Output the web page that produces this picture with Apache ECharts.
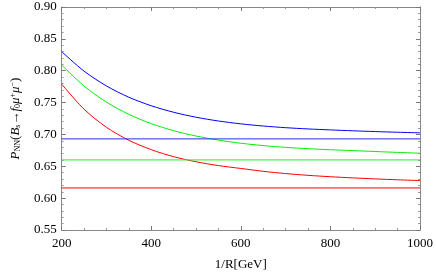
<!DOCTYPE html>
<html><head><meta charset="utf-8">
<script src="https://cdn.jsdelivr.net/npm/echarts@6/dist/echarts.min.js"></script>
<style>html,body{margin:0;padding:0;background:#fff}#c{width:436px;height:276px}</style>
</head><body><div id="c"></div>
<script>
const xValues = [200,250,300,350,400,450,500,550,600,650,700,750,800,850,900,950,1000];
const blueCurve  = [0.830,0.7994,0.7761,0.7584,0.745,0.7348,0.727,0.7211,0.7166,0.7132,0.7106,0.7086,0.7071,0.7057,0.7045,0.7034,0.7025];
const greenCurve = [0.809,0.7759,0.7507,0.7316,0.717,0.7059,0.6975,0.6911,0.6862,0.6825,0.6797,0.6776,0.676,0.6746,0.6732,0.6718,0.6705];
const redCurve   = [0.779,0.7396,0.7112,0.6908,0.6761,0.6651,0.6571,0.6511,0.6466,0.6421,0.6386,0.6358,0.6336,0.6318,0.6302,0.6288,0.6276];
const blueFlat = 0.693, greenFlat = 0.660, redFlat = 0.616;
const xTicks = [200,400,600,800,1000];
const yTicks = [0.55,0.60,0.65,0.70,0.75,0.80,0.85,0.90];

const pairs = ys => xValues.map((x,i)=>[x,ys[i]]);
const flat = v => [[xValues[0],v],[xValues[xValues.length-1],v]];
const FONT = '"Liberation Serif","DejaVu Serif",serif';
const axisCommon = {
  axisLine:{show:true,onZero:false,lineStyle:{color:'#888',width:1}},
  axisTick:{show:true,inside:true,length:4,lineStyle:{color:'#777'}},
  splitLine:{show:false}
};
const xMinor = {show:true,splitNumber:4,length:2,lineStyle:{color:'#999'}};
const yMinor = {show:true,splitNumber:5,length:2,lineStyle:{color:'#999'}};
const chart = echarts.init(document.getElementById('c'));
const lineS = (d,c,sm) => ({type:'line',data:d,smooth:sm,showSymbol:false,symbol:'none',lineStyle:{color:c,width:1},itemStyle:{color:c},animation:false});
chart.setOption({
  animation:false,
  grid:{left:55.5,right:14,top:7,bottom:43},
  xAxis:[
    Object.assign({type:'value',min:xTicks[0],max:xTicks[xTicks.length-1],interval:200,position:'bottom',
      name:'1/R[GeV]',nameLocation:'middle',nameGap:28,
      nameTextStyle:{fontFamily:FONT,fontSize:13,color:'#000'},
      axisLabel:{fontFamily:FONT,fontSize:13,color:'#000',margin:7,formatter:v=>String(v)}},axisCommon,{minorTick:xMinor}),
    Object.assign({type:'value',min:xTicks[0],max:xTicks[xTicks.length-1],interval:200,position:'top',axisLabel:{show:false}},axisCommon,{minorTick:xMinor})
  ],
  yAxis:[
    Object.assign({type:'value',min:yTicks[0],max:yTicks[yTicks.length-1],interval:0.05,position:'left',
      name:'{i|P}{sub|NN}{n|(}{i|B}{sub|s}{n|→}{i|f}{sub|0}{i|μ}{sup|+}{i|μ}{sup|−}{n|)}',
      nameLocation:'middle',nameGap:36,nameRotate:90,
      nameTextStyle:{fontFamily:FONT,fontSize:13,color:'#000',
        rich:{
          i:{fontFamily:FONT,fontSize:13,fontStyle:'italic',color:'#000'},
          n:{fontFamily:FONT,fontSize:13,color:'#000'},
          sub:{fontFamily:FONT,fontSize:8,color:'#000',verticalAlign:'bottom',lineHeight:13,padding:[6,0,0,0]},
          sup:{fontFamily:FONT,fontSize:8,color:'#000',verticalAlign:'top',lineHeight:13,padding:[0,0,6,0]}
        }},
      axisLabel:{fontFamily:FONT,fontSize:13,color:'#000',margin:5,formatter:v=>v.toFixed(2)}},axisCommon,{minorTick:yMinor}),
    Object.assign({type:'value',min:yTicks[0],max:yTicks[yTicks.length-1],interval:0.05,position:'right',axisLabel:{show:false}},axisCommon,{minorTick:yMinor})
  ],
  series:[
    lineS(pairs(blueCurve),'#0000ff',0.3),
    lineS(pairs(greenCurve),'#00f000',0.3),
    lineS(pairs(redCurve),'#ff0000',0.3),
    lineS(flat(blueFlat),'#2a2aff',false),
    lineS(flat(greenFlat),'#22f022',false),
    lineS(flat(redFlat),'#ff0000',false)
  ]
});
</script></body></html>
